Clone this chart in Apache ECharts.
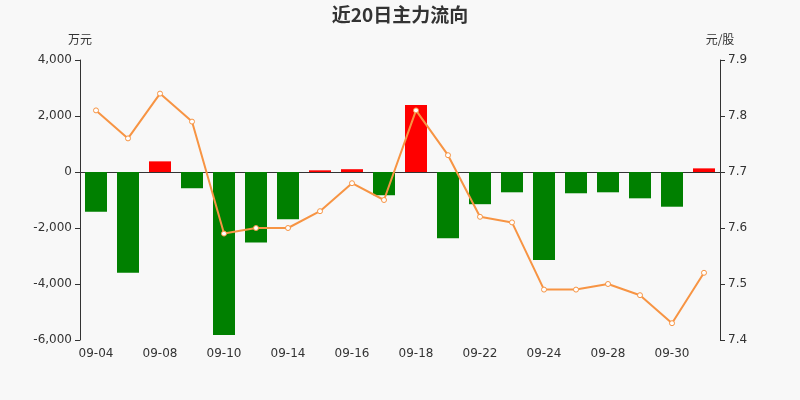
<!DOCTYPE html>
<html>
<head>
<meta charset="utf-8">
<script src="https://cdn.jsdelivr.net/npm/echarts@6/dist/echarts.min.js"></script>
<style>
  html, body { margin: 0; padding: 0; background: #f8f8f8; }
  #main { width: 800px; height: 400px; }
</style>
</head>
<body>
<div id="main"></div>
<script>
// 日期
var dates = ['09-04', '09-07', '09-08', '09-09', '09-10', '09-11', '09-14', '09-15', '09-16', '09-17',
             '09-18', '09-21', '09-22', '09-23', '09-24', '09-25', '09-28', '09-29', '09-30', '10-09'];
// 主力净流入（万元）
var flow = [-1420, -3600, 380, -580, -5820, -2520, -1690, 60, 100, -830,
            2390, -2370, -1150, -725, -3140, -760, -725, -940, -1240, 130];
// 收盘价（元/股）
var price = [7.81, 7.76, 7.84, 7.79, 7.59, 7.60, 7.60, 7.63, 7.68, 7.65,
             7.81, 7.73, 7.62, 7.61, 7.49, 7.49, 7.50, 7.48, 7.43, 7.52];

var chart = echarts.init(document.getElementById('main'));

var option = {
    backgroundColor: '#f8f8f8',
    animation: false,
    title: {
        text: '近20日主力流向',
        left: 'center',
        top: 0,
        textStyle: { fontSize: 19, fontWeight: 'bold', color: '#333', fontFamily: 'Noto Sans CJK SC' }
    },
    grid: { left: 80, right: 80, top: 60, bottom: 60 },
    xAxis: {
        type: 'category',
        data: dates,
        axisLine: { onZero: true, lineStyle: { color: '#333' } },
        axisTick: { interval: 1 },
        axisLabel: { interval: 1, color: '#333', fontSize: 12, fontFamily: 'DejaVu Sans' }
    },
    yAxis: [{
        type: 'value',
        name: '万元',
        nameGap: 15,
        min: -6000,
        max: 4000,
        interval: 2000,
        nameTextStyle: { color: '#333', fontSize: 12, fontFamily: 'Noto Sans CJK SC' },
        axisLine: { show: true, lineStyle: { color: '#333' } },
        axisTick: { show: true },
        axisLabel: { color: '#333', fontSize: 12, fontFamily: 'DejaVu Sans' },
        splitLine: { show: false }
    }, {
        type: 'value',
        name: '元/股',
        nameGap: 15,
        min: 7.4,
        max: 7.9,
        interval: 0.1,
        position: 'right',
        nameTextStyle: { color: '#333', fontSize: 12, fontFamily: 'Noto Sans CJK SC' },
        axisLine: { show: true, lineStyle: { color: '#333' } },
        axisTick: { show: true },
        axisLabel: { color: '#333', fontSize: 12, fontFamily: 'DejaVu Sans', formatter: function (v) { return v.toFixed(1); } },
        splitLine: { show: false }
    }],
    series: [{
        type: 'bar',
        data: flow,
        barWidth: 22,
        itemStyle: {
            color: function (p) { return p.value >= 0 ? '#ff0000' : '#008000'; }
        }
    }, {
        type: 'line',
        yAxisIndex: 1,
        data: price,
        symbol: 'circle',
        symbolSize: 5,
        lineStyle: { color: '#f79443', width: 2 },
        itemStyle: { color: '#fff', borderColor: '#f79443', borderWidth: 1 }
    }]
};

chart.setOption(option);
</script>
</body>
</html>
